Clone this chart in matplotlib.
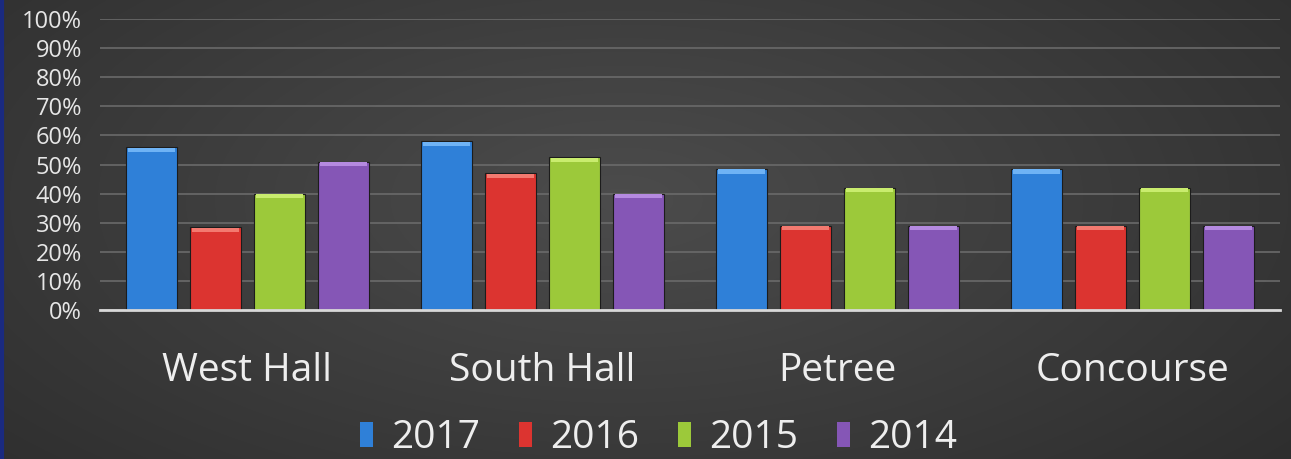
import numpy as np
import matplotlib
matplotlib.use("Agg")
import matplotlib.pyplot as plt
from matplotlib.patches import Patch

halls = ["West Hall", "South Hall", "Petree", "Concourse"]
years = ["2017", "2016", "2015", "2014"]
pct_2017 = [56, 58, 48.5, 48.5]
pct_2016 = [28.5, 47, 29, 29]
pct_2015 = [40, 52.5, 42, 42]
pct_2014 = [51, 40, 29, 29]
colors = ["#2f80d8", "#dc3430", "#9cc93a", "#8556b6"]
tops = ["#6fb3f5", "#f37a70", "#c9ec6e", "#b58ae0"]

plt.rcParams['font.family'] = ['Open Sans', 'DejaVu Sans']

fig = plt.figure(figsize=(12.91, 4.59), dpi=100)

# dark radial background
bg = fig.add_axes([0, 0, 1, 1])
yy, xx = np.mgrid[0:459, 0:1291]
r = np.sqrt(((xx - 620) / 900.0) ** 2 + ((yy - 200) / 420.0) ** 2)
shade = np.clip(0.30 - 0.12 * r, 0.15, 0.32)
bg.imshow(shade, cmap="gray", vmin=0, vmax=1, aspect="auto")
bg.axvline(1, color="#1a2a80", lw=3)
bg.set_axis_off()

ax = fig.add_axes([100 / 1291, 149 / 459, 1180 / 1291, 291 / 459])
ax.patch.set_alpha(0)

series = [pct_2017, pct_2016, pct_2015, pct_2014]
x = np.arange(len(halls))
w = 0.176
step = 0.217
for i, vals in enumerate(series):
    pos = x + (i - 1.5) * step
    ax.bar(pos, vals, w, color=colors[i], edgecolor="#1c1c1c", lw=0.8, zorder=3)
    ax.bar(pos, [1.4] * len(vals), w * 0.9, bottom=np.array(vals) - 1.6,
           color=tops[i], lw=0, zorder=4)

ax.set_xlim(-0.5, 3.5)
ax.set_ylim(0, 100)
ax.set_yticks(range(0, 101, 10))
ax.set_yticklabels([f"{v}%" for v in range(0, 101, 10)], color="#e6e6e6", fontsize=17)
ax.set_xticks(x)
ax.set_xticklabels(halls, color="#eeeeee", fontsize=28)
ax.tick_params(axis="both", length=0)
ax.tick_params(axis="x", pad=30)
ax.tick_params(axis="y", pad=13)
ax.grid(axis="y", color="#6a6a6a", lw=1.2, zorder=0)
for s in ["top", "right", "left"]:
    ax.spines[s].set_visible(False)
ax.spines["bottom"].set_color("#d8d8d8")
ax.spines["bottom"].set_linewidth(2)
ax.spines["bottom"].set_zorder(5)

handles = [Patch(facecolor=c, edgecolor="none") for c in colors]
fig.legend(handles, years, loc="center", bbox_to_anchor=(0.51, 0.046),
           ncol=4, frameon=False, fontsize=28, labelcolor="#eeeeee",
           handlelength=0.35, handleheight=0.6, handletextpad=0.45, columnspacing=1.0)

fig.savefig("out.png", dpi=100)
